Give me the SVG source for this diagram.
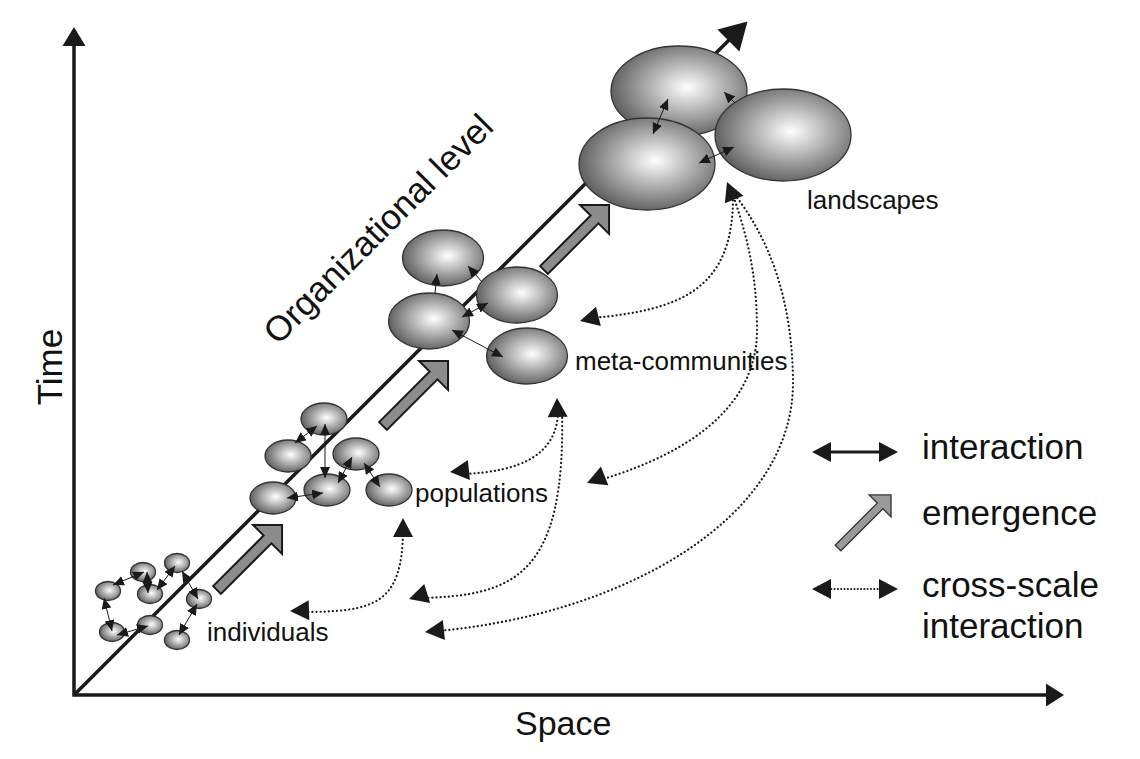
<svg xmlns="http://www.w3.org/2000/svg" xmlns:xlink="http://www.w3.org/1999/xlink" width="1140" height="759" viewBox="0 0 1140 759">
<style>
.ax{fill:none;stroke:#1a1a1a;stroke-width:3.5;stroke-linejoin:miter}
.hd{fill:#1a1a1a;stroke:none}
.nd ellipse{fill:url(#sph);stroke:#333;stroke-width:1.3}
.ia{fill:none;stroke:#1a1a1a;stroke-width:1;marker-start:url(#ah);marker-end:url(#ah)}
.ia1{fill:none;stroke:#1a1a1a;stroke-width:1;marker-end:url(#ah)}
.dot{fill:none;stroke:#1a1a1a;stroke-width:2.2;stroke-dasharray:0.1 4;stroke-linecap:round}
.em{fill:#8c8c8c;stroke:#1a1a1a;stroke-width:2;stroke-linejoin:miter}
.t{font-family:"Liberation Sans",Arial,Helvetica,sans-serif;fill:#111}
.big{font-size:35px}
.sm{font-size:26px}
</style>
<defs>
<radialGradient id="sph" cx="0.56" cy="0.46" r="0.56" fx="0.56" fy="0.46">
<stop offset="0" stop-color="#ffffff"/>
<stop offset="1" stop-color="#616161"/>
</radialGradient>
<marker id="ah" viewBox="0 0 10 10" refX="10" refY="5" markerWidth="11" markerHeight="10" markerUnits="userSpaceOnUse" orient="auto-start-reverse" preserveAspectRatio="none">
<path d="M0,0 L10,5 L0,10 Z" fill="#1a1a1a"/>
</marker>
<path id="dh" d="M0,0 L-19,-10 L-19,10 Z"/>
<path id="emA" d="M0,-5.5 H71.5 V-20.5 L92,0 L71.5,20.5 V5.5 H0 Z"/>
</defs>
<rect width="1140" height="759" fill="#ffffff"/>

<g id="axes">
<path class="ax" d="M74,44 V695 H1048"/>
<polygon class="hd" points="74,27 62.5,46 85.5,46"/>
<polygon class="hd" points="1064,695 1046,683.5 1046,706.5"/>
<path class="ax" d="M74,695 L730,39"/>
<polygon class="hd" points="747.5,21.5 739.4,51.6 717.4,29.6"/>
</g>

<g id="emergence">
<use href="#emA" class="em" transform="translate(217,590) rotate(-45)"/>
<use href="#emA" class="em" transform="translate(383,426) rotate(-45)"/>
<use href="#emA" class="em" transform="translate(544,270) rotate(-45)"/>
</g>

<g id="individuals" class="nd">
<ellipse cx="143" cy="572" rx="12.5" ry="9.5"/>
<ellipse cx="177" cy="563" rx="12.5" ry="9.5"/>
<ellipse cx="108" cy="591" rx="12.5" ry="9.5"/>
<ellipse cx="150" cy="594" rx="12.5" ry="9.5"/>
<ellipse cx="199" cy="599" rx="12.5" ry="9.5"/>
<ellipse cx="112" cy="632" rx="12.5" ry="9.5"/>
<ellipse cx="150" cy="625" rx="12.5" ry="9.5"/>
<ellipse cx="177" cy="640" rx="12.5" ry="9.5"/>
</g>

<g id="populations" class="nd">
<ellipse cx="324" cy="419" rx="23" ry="16"/>
<ellipse cx="288" cy="456" rx="23" ry="16"/>
<ellipse cx="356" cy="454" rx="23" ry="16"/>
<ellipse cx="273" cy="498" rx="23" ry="16"/>
<ellipse cx="327" cy="490" rx="23" ry="16"/>
<ellipse cx="389" cy="490" rx="23" ry="16"/>
</g>

<g id="meta-communities" class="nd">
<ellipse cx="443" cy="258" rx="40.5" ry="28"/>
<ellipse cx="517" cy="295" rx="40.5" ry="28"/>
<ellipse cx="429" cy="321" rx="40.5" ry="28"/>
<ellipse cx="527" cy="356" rx="40.5" ry="28"/>
</g>

<g id="landscapes" class="nd">
<ellipse cx="679" cy="91" rx="68" ry="45"/>
<ellipse cx="647" cy="164" rx="68" ry="46"/>
<ellipse cx="783" cy="135" rx="68" ry="46"/>
</g>

<g id="connectors">
<path class="ia" d="M113,585 L144,572"/>
<path class="ia" d="M147,572 L148,593"/>
<path class="ia" d="M157,590 L175,566"/>
<path class="ia" d="M182,571 L198,599"/>
<path class="ia" d="M104,598 L112,631"/>
<path class="ia" d="M117,635 L148,626"/>
<path class="ia" d="M197,604 L179,635"/>

<path class="ia" d="M295,443 L317,426"/>
<path class="ia" d="M325,424 L325,478"/>
<path class="ia" d="M338,483 L352,457"/>
<path class="ia" d="M364,463 L380,487"/>
<path class="ia" d="M287,498 L323,493"/>

<path class="ia1" d="M435,293 L437,274"/>
<path class="ia1" d="M482,282 L468,266"/>
<path class="ia" d="M488,303 L462,317"/>
<path class="ia" d="M452,330 L503,357"/>

<path class="ia" d="M668,99 L653,134"/>
<path class="ia1" d="M735,103 L724,92"/>
<path class="ia" d="M699,163 L734,147"/>

<path class="dot" d="M300,612 C375,612 403,605 403,528"/>
<path class="dot" d="M462,474 C520,472 558,455 558,410"/>
<path class="dot" d="M420,598 C515,596 566,575 562,410"/>
<path class="dot" d="M592,318 C680,310 734,290 733,195"/>
<path class="dot" d="M600,480 C700,450 757,400 757,330 C757,270 745,230 733,195"/>
<path class="dot" d="M437,631 C620,615 795,520 793,380 C792,300 770,240 735,195"/>

<use href="#dh" class="hd" transform="translate(290,611) rotate(178)"/>
<use href="#dh" class="hd" transform="translate(403,518) rotate(-90)"/>
<use href="#dh" class="hd" transform="translate(450,472) rotate(174)"/>
<use href="#dh" class="hd" transform="translate(557,398) rotate(-92)"/>
<use href="#dh" class="hd" transform="translate(409,599) rotate(163)"/>
<use href="#dh" class="hd" transform="translate(580,321) rotate(166)"/>
<use href="#dh" class="hd" transform="translate(587,483) rotate(158)"/>
<use href="#dh" class="hd" transform="translate(425,632) rotate(174)"/>
<use href="#dh" class="hd" transform="translate(727,182) rotate(-112)"/>
</g>

<g id="labels">
<text class="t big" x="62" y="367" text-anchor="middle" transform="rotate(-90 62 367)">Time</text>
<text class="t" style="font-size:34px" x="515" y="735">Space</text>
<text class="t big" x="278" y="346" transform="rotate(-45 278 346)">Organizational level</text>
<text class="t sm" x="207" y="641">individuals</text>
<text class="t sm" x="415" y="502">populations</text>
<text class="t sm" x="575" y="370">meta-communities</text>
<text class="t sm" x="807" y="209">landscapes</text>
</g>

<g id="legend">
<path d="M826,452 H884" fill="none" stroke="#1a1a1a" stroke-width="3"/>
<use href="#dh" class="hd" transform="translate(812,452) rotate(180)"/>
<use href="#dh" class="hd" transform="translate(898,452)"/>
<path d="M0,-4 H59.5 V-15.5 L75,0 L59.5,15.5 V4 H0 Z" fill="#9a9a9a" stroke="#333" stroke-width="1.3" transform="translate(838,548) rotate(-45)"/>
<path class="dot" d="M828,589 H882" style="stroke-width:2;stroke-dasharray:0.1 3.2"/>
<use href="#dh" class="hd" transform="translate(812,589) rotate(180)"/>
<use href="#dh" class="hd" transform="translate(898,589)"/>
<text class="t big" x="922" y="459">interaction</text>
<text class="t big" x="922" y="525">emergence</text>
<text class="t big" x="922" y="597">cross-scale</text>
<text class="t big" x="922" y="638">interaction</text>
</g>
</svg>
